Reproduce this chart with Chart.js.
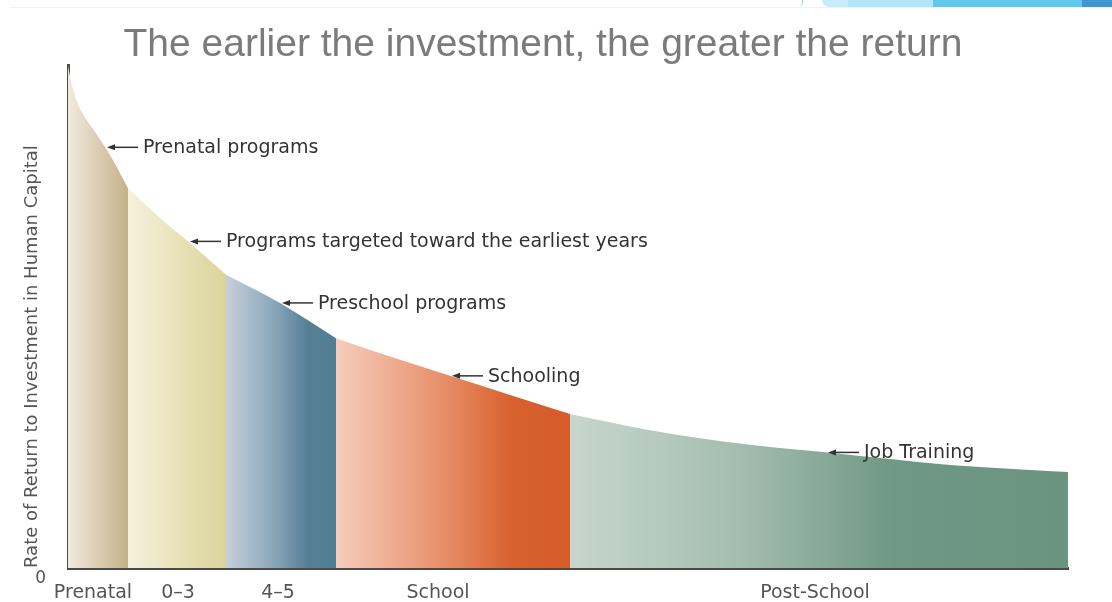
<!DOCTYPE html>
<html>
<head>
<meta charset="utf-8">
<script src="https://cdn.jsdelivr.net/npm/chart.js@4.4.0/dist/chart.umd.min.js"></script>
<style>
  html, body { margin: 0; padding: 0; background: #fff; }
  #wrap { position: relative; width: 1112px; height: 602px; overflow: hidden; }
  #wrap canvas { position: absolute; left: 0; top: 0; }
  .deco { position: absolute; top: 0; height: 7px; }
</style>
</head>
<body>
<div id="wrap">
  <canvas id="chart" width="1112" height="602"></canvas>
  <!-- slide decoration along the top edge -->
  <div class="deco" style="left:10px;width:1102px;top:7px;height:1px;background:#f1f1f1"></div>
  <div class="deco" style="left:798px;width:4px;border-radius:0 0 4px 0;border-right:1px solid #7fd0ef;height:6px"></div>
  <div class="deco" style="left:822px;width:26px;background:#c6ecf9;border-radius:0 0 0 8px"></div>
  <div class="deco" style="left:848px;width:85px;background:#b1e5f7"></div>
  <div class="deco" style="left:933px;width:149px;background:#63c9ec"></div>
  <div class="deco" style="left:1082px;width:30px;background:#3e97cf"></div>
</div>
<script>
const title = 'The earlier the investment, the greater the return';
const yTitle = 'Rate of Return to Investment in Human Capital';

// position along the life cycle (0 = conception .. 100 = end of working life)
const curveX = [0, 0.3, 0.8, 1.6, 2.7, 4.2, 6, 9.2, 12.2, 15.8, 21.2, 26.8, 33.2, 38.2, 44.2, 50.2, 58.2, 68.2, 76.2, 88.2, 100];
// rate of return, 0 at the x axis
const curveY = [99.8, 96.8, 93.2, 89.9, 86.7, 82.1, 75.5, 69.6, 64.6, 58.3, 52.7, 45.7, 41.4, 38.2, 34.4, 30.6, 27.4, 24.5, 22.9, 20.5, 19.1];

const stages = ['Prenatal', '0–3', '4–5', 'School', 'Post-School'];
const stageEnds = [6, 15.8, 26.8, 50.2, 100];
const stageTicks = [2.5, 11, 21, 37, 74.7];

const programs = ['Prenatal programs', 'Programs targeted toward the earliest years', 'Preschool programs', 'Schooling', 'Job Training'];
const programAt = [3.7, 12, 21.2, 38.2, 75.8];

// gradient stops for each stage, left to right
const stageColors = [
  [[0, '#efebdd'], [0.5, '#dccdb3'], [1, '#c5b189']],
  [[0, '#f5f2de'], [0.5, '#e8e2b8'], [1, '#dbd49c']],
  [[0, '#c6d0da'], [0.4, '#8faabd'], [0.75, '#557f95'], [1, '#517e93']],
  [[0, '#f5cdbc'], [0.45, '#e8906a'], [0.75, '#d8612e'], [1, '#d65c2a']],
  [[0, '#c7d6cf'], [0.35, '#a3bcb0'], [0.65, '#6f9886'], [1, '#6a9480']],
];

function stageFill(i) {
  return (context) => {
    const chart = context.chart;
    const x = chart.scales.x;
    if (!x || !chart.chartArea) return stageColors[i][0][1];
    const x0 = x.getPixelForValue(i ? stageEnds[i - 1] : 0);
    const x1 = x.getPixelForValue(stageEnds[i]);
    const g = chart.ctx.createLinearGradient(x0, 0, x1, 0);
    stageColors[i].forEach(([stop, col]) => g.addColorStop(stop, col));
    return g;
  };
}

const datasets = stages.map((name, i) => {
  const start = i ? stageEnds[i - 1] : 0;
  const pts = [];
  curveX.forEach((cx, k) => {
    if (cx >= start && cx <= stageEnds[i]) pts.push({ x: cx, y: curveY[k] });
  });
  return {
    label: name,
    data: pts,
    fill: 'origin',
    backgroundColor: stageFill(i),
    borderColor: 'transparent',
    borderWidth: 0,
    pointRadius: 0,
    cubicInterpolationMode: 'monotone',
  };
});

// arrows pointing at the curve, with the program names
const programArrows = {
  id: 'programArrows',
  afterDatasetsDraw(chart) {
    const { ctx, scales: { x, y } } = chart;
    ctx.save();
    ctx.font = '19px "DejaVu Sans"';
    ctx.fillStyle = '#333';
    ctx.strokeStyle = '#333';
    ctx.lineWidth = 1.5;
    ctx.textBaseline = 'middle';
    programs.forEach((label, i) => {
      const v = programAt[i];
      const k = Math.max(1, curveX.findIndex(cx => cx >= v));
      const t = (v - curveX[k - 1]) / (curveX[k] - curveX[k - 1]);
      const val = curveY[k - 1] + t * (curveY[k] - curveY[k - 1]);
      const px = x.getPixelForValue(v) + 2;
      const py = y.getPixelForValue(val);
      ctx.beginPath();
      ctx.moveTo(px + 6, py);
      ctx.lineTo(px + 31, py);
      ctx.stroke();
      ctx.beginPath();
      ctx.moveTo(px, py);
      ctx.lineTo(px + 8, py - 3);
      ctx.lineTo(px + 8, py + 3);
      ctx.closePath();
      ctx.fill();
      ctx.fillText(label, px + 36, py + 1);
    });
    ctx.restore();
  }
};

new Chart(document.getElementById('chart'), {
  type: 'line',
  data: { datasets },
  options: {
    responsive: false,
    animation: false,
    events: [],
    layout: { padding: { left: 18, right: 44, top: 0, bottom: 0 } },
    plugins: {
      legend: { display: false },
      tooltip: { enabled: false },
      title: {
        display: true,
        text: title,
        color: '#7b7b7b',
        font: { family: '"Liberation Sans", Arial, sans-serif', size: 39, weight: 'normal', lineHeight: 1 },
        padding: { top: 26, bottom: 0 },
      },
    },
    scales: {
      x: {
        type: 'linear',
        min: 0,
        max: 100,
        afterFit: (s) => { s.height = 34; },
        afterBuildTicks: (s) => { s.ticks = stageTicks.map(v => ({ value: v })); },
        ticks: {
          callback: (v, i) => stages[i],
          autoSkip: false,
          maxRotation: 0,
          padding: 14,
          color: '#555',
          font: { family: '"DejaVu Sans", sans-serif', size: 19 },
        },
        grid: { display: false, drawTicks: false },
        border: { display: true, color: '#4a4a4a', width: 3 },
      },
      y: {
        min: 0,
        max: 100,
        afterFit: (s) => { s.width = 50; },
        afterBuildTicks: (s) => { s.ticks = [{ value: 0 }]; },
        ticks: {
          callback: () => '0',
          padding: 22,
          labelOffset: 11,
          color: '#555',
          font: { family: '"DejaVu Sans", sans-serif', size: 17 },
        },
        grid: { display: false, drawTicks: false },
        border: { display: true, color: '#4a4a4a', width: 3 },
        title: {
          display: true,
          text: yTitle,
          align: 'start',
          color: '#555',
          font: { family: '"DejaVu Sans", sans-serif', size: 18 },
          padding: { top: 4, bottom: 0 },
        },
      },
    },
  },
  plugins: [programArrows],
});
</script>
</body>
</html>
